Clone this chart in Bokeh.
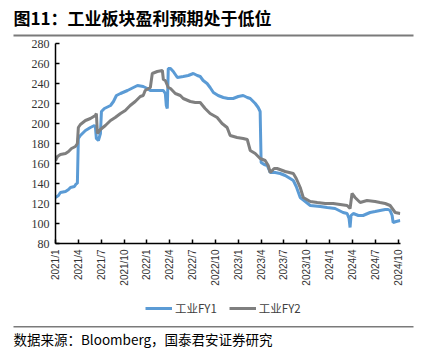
import pandas as pd
from bokeh.plotting import figure
from bokeh.layouts import column
from bokeh.models import FixedTicker, Legend, LegendItem, Range1d
from bokeh.core.properties import value
from bokeh.embed import file_html
from bokeh.resources import INLINE
from math import pi

# ---------------- data ----------------
fy1_dates = ["2021-01-01", "2021-01-13", "2021-01-21", "2021-02-10", "2021-02-21", "2021-02-28",
             "2021-03-16", "2021-03-24", "2021-03-28", "2021-04-01", "2021-04-09", "2021-04-29",
             "2021-05-19", "2021-06-04", "2021-06-08", "2021-06-12", "2021-06-20", "2021-06-28",
             "2021-07-02", "2021-07-14", "2021-08-08", "2021-08-20", "2021-09-01", "2021-09-17",
             "2021-10-15", "2021-11-08", "2021-11-24", "2021-12-17", "2022-01-03", "2022-01-15",
             "2022-03-06", "2022-03-14", "2022-03-18", "2022-03-22", "2022-03-26", "2022-04-04",
             "2022-04-15", "2022-05-01", "2022-05-25", "2022-06-14", "2022-07-04", "2022-07-20",
             "2022-08-01", "2022-08-13", "2022-08-29", "2022-09-10", "2022-09-23", "2022-10-12",
             "2022-11-02", "2022-11-21", "2022-12-11", "2023-01-01", "2023-01-21", "2023-02-06",
             "2023-02-17", "2023-03-08", "2023-03-20", "2023-03-28", "2023-04-01", "2023-04-13",
             "2023-04-25", "2023-05-07", "2023-05-27", "2023-06-16", "2023-07-06", "2023-07-26",
             "2023-08-08", "2023-08-20", "2023-09-05", "2023-09-25", "2023-10-15", "2023-11-24",
             "2023-12-22", "2024-01-23", "2024-02-23", "2024-03-10", "2024-03-18", "2024-03-22",
             "2024-03-26", "2024-04-04", "2024-04-24", "2024-05-13", "2024-06-10", "2024-06-30",
             "2024-07-20", "2024-08-10", "2024-08-22", "2024-08-30", "2024-09-07", "2024-09-11",
             "2024-09-23", "2024-10-09"]
fy1_values = [126, 128, 131, 132, 134, 136,
              137, 140, 140, 185, 188, 193,
              196, 198, 197, 185, 183, 190,
              212, 215, 218, 222, 228, 230,
              233, 236, 238, 237, 235, 233,
              233, 230, 218, 215, 255, 255,
              252, 246, 247, 248, 250, 248,
              247, 243, 240, 236, 231, 228,
              226, 225, 225, 227, 228, 226,
              225, 220, 216, 212, 161, 159,
              158, 151, 151, 150, 148, 145,
              143, 137, 126, 122, 118, 117,
              116, 115, 111, 110, 105, 96,
              108, 110, 108, 108, 111, 112,
              113, 114, 114, 113, 108, 101,
              102, 103]

fy2_dates = ["2021-01-01", "2021-01-09", "2021-01-21", "2021-02-10", "2021-02-21", "2021-03-04",
             "2021-03-20", "2021-03-28", "2021-04-01", "2021-04-09", "2021-04-29", "2021-05-19",
             "2021-06-08", "2021-06-12", "2021-06-16", "2021-06-28", "2021-07-18", "2021-08-08",
             "2021-08-27", "2021-09-17", "2021-10-06", "2021-10-26", "2021-11-15", "2021-12-05",
             "2021-12-17", "2021-12-25", "2022-01-15", "2022-01-23", "2022-02-11", "2022-03-02",
             "2022-03-06", "2022-03-14", "2022-03-26", "2022-04-04", "2022-04-23", "2022-05-13",
             "2022-05-25", "2022-06-22", "2022-07-12", "2022-08-01", "2022-08-21", "2022-09-10",
             "2022-10-08", "2022-10-28", "2022-11-17", "2022-11-29", "2022-12-27", "2023-01-21",
             "2023-02-06", "2023-02-17", "2023-03-08", "2023-03-28", "2023-04-17", "2023-04-29",
             "2023-05-07", "2023-05-23", "2023-06-04", "2023-07-06", "2023-08-08", "2023-08-20",
             "2023-09-05", "2023-09-17", "2023-10-15", "2023-11-12", "2023-12-14", "2024-01-15",
             "2024-02-12", "2024-03-10", "2024-03-22", "2024-03-30", "2024-04-11", "2024-05-01",
             "2024-05-29", "2024-06-30", "2024-07-20", "2024-08-10", "2024-08-30", "2024-09-19",
             "2024-10-09"]
fy2_values = [163, 167, 169, 170, 172, 175,
              177, 180, 196, 199, 203, 205,
              208, 210, 190, 194, 198, 203,
              206, 210, 213, 218, 222, 227,
              228, 233, 236, 250, 252, 253,
              244, 243, 236, 235, 230, 228,
              225, 222, 221, 221, 215, 210,
              206, 200, 196, 188, 186, 185,
              184, 173, 170, 165, 163, 158,
              151, 155, 155, 152, 150, 145,
              136, 126, 122, 121, 120, 120,
              119, 118, 115, 130, 126, 121,
              123, 122, 121, 120, 118, 111,
              110]

tick_labels = ["2021/1", "2021/4", "2021/7", "2021/10", "2022/1", "2022/4", "2022/7", "2022/10",
               "2023/1", "2023/4", "2023/7", "2023/10", "2024/1", "2024/4", "2024/7", "2024/10"]
y_ticks = [80, 100, 120, 140, 160, 180, 200, 220, 240, 260, 280]
series_names = ["工业FY1", "工业FY2"]
title_text = "图11：工业板块盈利预期处于低位"
source_text = "数据来源：Bloomberg，国泰君安证券研究"


def month_index(s):
    ts = pd.Timestamp(s)
    return (ts.year - 2021) * 12 + (ts.month - 1) + (ts.day - 1) / ts.days_in_month


def label_index(lbl):
    y, m = lbl.split("/")
    return (int(y) - 2021) * 12 + int(m) - 1


fy1_x = [month_index(d) for d in fy1_dates]
fy2_x = [month_index(d) for d in fy2_dates]
tick_pos = [label_index(t) for t in tick_labels]

W = 426
TOP_H, MAIN_H, LEG_H, BOT_H = 38, 258, 22, 34
blue = "#5B9BD5"
gray = "#7F7F7F"
LW = 3


def strip(height, y_top, xr=None, yr=None):
    f = figure(width=W, height=height,
               x_range=xr if xr is not None else Range1d(0, W),
               y_range=yr if yr is not None else Range1d(y_top + height, y_top),
               x_axis_location=None, y_axis_location=None,
               min_border=0, min_border_left=0, min_border_right=0,
               min_border_top=0, min_border_bottom=0, frame_align=False,
               toolbar_location=None, output_backend="svg")
    f.grid.visible = False
    f.outline_line_color = None
    return f


# ---------------- title strip ----------------
top = strip(TOP_H, 0)
top.text(x=[13], y=[16.5], text=[title_text], text_font=value("Noto Sans CJK SC"),
         text_font_style="bold", text_font_size="17px", text_baseline="middle",
         text_color="black")
top.quad(left=[13], right=[413], top=[34], bottom=[36], fill_color="#7a7a7a",
         line_color=None)

# ---------------- main chart ----------------
p = figure(width=W, height=MAIN_H, x_range=(0, 45.3), y_range=(80, 280),
           min_border_left=55, min_border_right=26, min_border_top=5, min_border_bottom=53,
           frame_align=False, toolbar_location=None, output_backend="svg")
p.outline_line_color = None
p.grid.grid_line_color = None

p.line(fy1_x, fy1_values, line_color=blue, line_width=LW)
p.line(fy2_x, fy2_values, line_color=gray, line_width=LW)

p.xaxis.ticker = FixedTicker(ticks=tick_pos)
p.xaxis.major_label_overrides = {tp: lbl for tp, lbl in zip(tick_pos, tick_labels)}
p.xaxis.major_label_orientation = pi / 2
p.xaxis.major_label_text_font = "Liberation Sans"
p.xaxis.major_label_text_font_size = "10px"
p.xaxis.major_label_text_color = "#333333"
p.yaxis.ticker = FixedTicker(ticks=y_ticks)
p.yaxis.major_label_text_font = "Liberation Serif"
p.yaxis.major_label_text_font_size = "12px"
p.yaxis.major_label_text_color = "#333333"
for ax in (p.xaxis, p.yaxis):
    ax.axis_line_color = "black"
    ax.axis_line_width = 1.5
    ax.major_tick_line_color = "black"
    ax.major_tick_line_width = 1.5
    ax.major_tick_in = 4
    ax.major_tick_out = 0
    ax.minor_tick_line_color = None
    ax.major_label_standoff = 6

# ---------------- legend strip ----------------
# the series renderers here sit outside this strip's view; only the legend shows
leg = strip(LEG_H, 0, xr=Range1d(-1000, -999), yr=Range1d(-1000, -999))
lr1 = leg.line(fy1_x, fy1_values, line_color=blue, line_width=LW)
lr2 = leg.line(fy2_x, fy2_values, line_color=gray, line_width=LW)
legend = Legend(items=[LegendItem(label=series_names[0], renderers=[lr1]),
                       LegendItem(label=series_names[1], renderers=[lr2])],
                orientation="horizontal", location=(145, 2),
                border_line_color=None, background_fill_alpha=0,
                padding=0, margin=0, spacing=12, glyph_width=27, glyph_height=12,
                label_standoff=3, label_text_font="Noto Sans CJK SC",
                label_text_font_size="11.5px", label_text_color="#404040")
leg.add_layout(legend, "center")

# ---------------- source strip ----------------
bot = strip(BOT_H, TOP_H + MAIN_H + LEG_H)
bot.quad(left=[13], right=[413], top=[325.5], bottom=[327], fill_color="#7a7a7a",
         line_color=None)
bot.text(x=[13], y=[338.5], text=[source_text], text_font=value("Noto Sans CJK SC"),
         text_font_size="13.5px", text_baseline="middle", text_color="black")

layout = column(top, p, leg, bot, spacing=0)
open("out.html", "w").write(file_html(layout, INLINE))
